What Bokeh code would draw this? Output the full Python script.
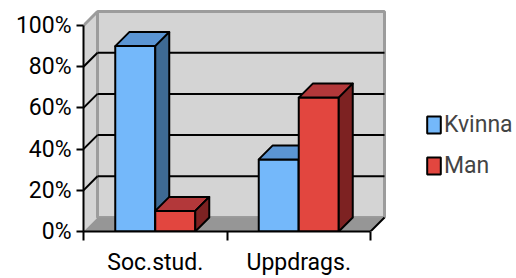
from bokeh.plotting import figure
from bokeh.models import Range1d, FixedTicker, Legend, LegendItem
from bokeh.embed import file_html
from bokeh.resources import INLINE

# ---- data ----
categories = ["Soc.stud.", "Uppdrags."]
series_names = ["Kvinna", "Man"]
kvinna = [0.90, 0.35]
man = [0.10, 0.65]
y_ticks = [0.0, 0.2, 0.4, 0.6, 0.8, 1.0]
y_labels = ["0%", "20%", "40%", "60%", "80%", "100%"]

# ---- styles ----
FONT = "Roboto"
front_cols = ["#74b8fa", "#e2463f"]
top_cols = ["#5b95d3", "#b3383a"]
side_cols = ["#3e6a93", "#7d2222"]
WALL = "#d4d4d4"
WALL_EDGE = "#9c9c9c"
FLOOR = "#969696"

W, H = 516, 278
LEFT, BOTTOM = 83, 47
FRAME_W, FRAME_H = W - LEFT, H - BOTTOM
PX_X = 143.5   # pixels per category
PX_Y = 206.0   # pixels per 100 %
DX = 14 / PX_X   # depth offset (x)
DY = 14 / PX_Y   # depth offset (y)
BAR_W = 40 / PX_X

n = len(categories)
ymax = y_ticks[-1]

p = figure(width=W, height=H, output_backend="svg", toolbar_location=None,
           x_range=Range1d(0, FRAME_W / PX_X), y_range=Range1d(0, FRAME_H / PX_Y),
           min_border_left=LEFT, min_border_right=0, min_border_top=0,
           min_border_bottom=BOTTOM)
p.outline_line_color = None
p.grid.visible = False

# ---- walls ----
p.patch([0, DX, DX, 0], [0, DY, ymax + DY, ymax], fill_color=WALL, line_color=None)
p.quad(left=[DX], right=[n + DX], bottom=[DY], top=[ymax + DY],
       fill_color=WALL, line_color=WALL_EDGE, line_width=3)
p.patch([0, n, n + DX, DX], [0, 0, DY, DY], fill_color=FLOOR, line_color=None)
p.segment(x0=[n], y0=[0], x1=[n + DX], y1=[DY], line_color="black", line_width=2)
p.segment(x0=[0], y0=[ymax], x1=[DX], y1=[ymax + DY], line_color=WALL_EDGE, line_width=3)

gt = y_ticks[1:-1]
p.segment(x0=[DX] * len(gt), y0=[t + DY for t in gt], x1=[n + DX] * len(gt),
          y1=[t + DY for t in gt], line_color="black", line_width=2)
p.segment(x0=[0] * len(gt), y0=gt, x1=[DX] * len(gt), y1=[t + DY for t in gt],
          line_color="black", line_width=2)

# ---- bars ----
legend_items = []
for s, vals in enumerate([kvinna, man]):
    x0s = [i + 0.5 - BAR_W + s * BAR_W for i in range(n)]
    x1s = [x + BAR_W for x in x0s]
    front = p.quad(left=x0s, right=x1s, bottom=[0] * n, top=vals,
                   fill_color=front_cols[s], line_color="black", line_width=2)
    p.patches(xs=[[a, b, b + DX, a + DX] for a, b in zip(x0s, x1s)],
              ys=[[v, v, v + DY, v + DY] for v in vals],
              fill_color=top_cols[s], line_color="black", line_width=2,
              line_join="round")
    p.patches(xs=[[b, b + DX, b + DX, b] for b in x1s],
              ys=[[0, DY, v + DY, v] for v in vals],
              fill_color=side_cols[s], line_color="black", line_width=2,
              line_join="round")
    legend_items.append(LegendItem(label=series_names[s], renderers=[front]))

# ---- axes ----
xa = p.xaxis[0]
xa.ticker = FixedTicker(ticks=[i + 0.5 for i in range(n)], minor_ticks=list(range(n + 1)))
xa.major_label_overrides = {i + 0.5: c for i, c in enumerate(categories)}
xa.bounds = (0, n)
xa.axis_line_width = 2
xa.axis_line_color = "black"
xa.major_tick_out = 0
xa.major_tick_in = 0
xa.minor_tick_in = 0
xa.minor_tick_out = 9
xa.minor_tick_line_width = 2
xa.minor_tick_line_color = "black"
xa.major_label_standoff = 8
xa.major_label_text_font = FONT
xa.major_label_text_font_size = "23px"
xa.major_label_text_color = "black"

ya = p.yaxis[0]
ya.ticker = FixedTicker(ticks=y_ticks, minor_ticks=[])
ya.major_label_overrides = dict(zip(y_ticks, y_labels))
ya.bounds = (0, ymax)
ya.axis_line_width = 2
ya.axis_line_color = "black"
ya.major_tick_out = 7
ya.major_tick_in = 0
ya.major_tick_line_width = 2
ya.major_tick_line_color = "black"
ya.major_label_standoff = 5
ya.major_label_text_font = FONT
ya.major_label_text_font_size = "23px"
ya.major_label_text_color = "black"

# ---- legend ----
legend = Legend(items=legend_items, location=(342, 52),
                label_text_font=FONT, label_text_font_size="23px",
                glyph_width=17, glyph_height=21, label_height=21,
                spacing=14, padding=0, margin=0, label_standoff=2,
                border_line_color=None, background_fill_alpha=0)
p.add_layout(legend)

open("out.html", "w").write(file_html(p, INLINE))
